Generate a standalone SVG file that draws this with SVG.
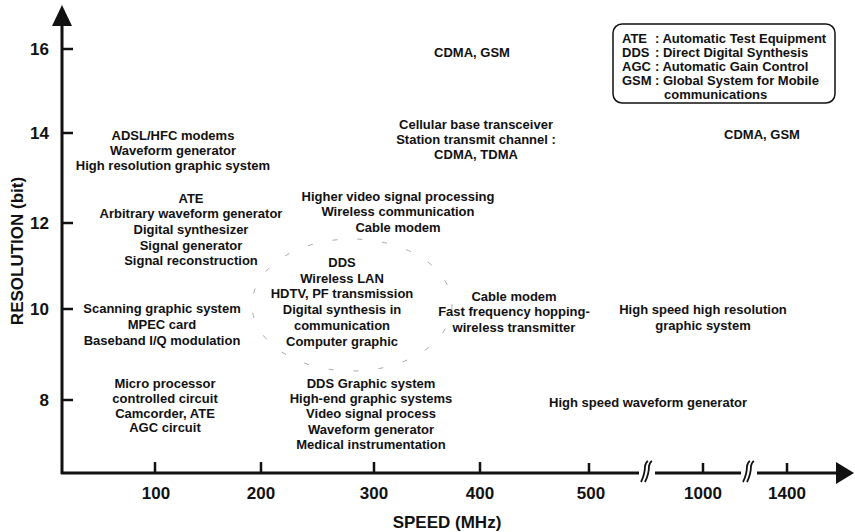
<svg xmlns="http://www.w3.org/2000/svg" width="855" height="532" viewBox="0 0 855 532">
<style>
text{font-family:"Liberation Sans",Arial,sans-serif;font-weight:bold;fill:#111}
.t{font-size:13px;text-anchor:middle}
.n{font-size:17px}
.ax{stroke:#111;stroke-width:3;fill:none}
.tk{stroke:#111;stroke-width:2.5}
.lg{font-size:13px}
.brk{stroke:#111;stroke-width:1.8;fill:none}
</style>
<rect width="855" height="532" fill="#fff"/>
<g id="axes">
<line class="ax" x1="62" y1="474" x2="62" y2="22"/>
<polygon points="52,26 72,26 62,5" fill="#111"/>
<line class="ax" x1="61" y1="473" x2="840" y2="473"/>
<polygon points="836,462 836,484 854,473" fill="#111"/>
<g class="tk">
<line x1="62" y1="49" x2="73" y2="49"/>
<line x1="62" y1="133" x2="73" y2="133"/>
<line x1="62" y1="223" x2="73" y2="223"/>
<line x1="62" y1="309" x2="73" y2="309"/>
<line x1="62" y1="400" x2="73" y2="400"/>
<line x1="155" y1="473" x2="155" y2="462"/>
<line x1="261" y1="473" x2="261" y2="462"/>
<line x1="374" y1="473" x2="374" y2="462"/>
<line x1="480" y1="473" x2="480" y2="462"/>
<line x1="589" y1="473" x2="589" y2="463"/>
<line x1="703" y1="473" x2="703" y2="463"/>
<line x1="787" y1="473" x2="787" y2="463"/>
</g>
<rect x="639" y="470" width="16" height="6" fill="#fff"/>
<rect x="741" y="470" width="16" height="6" fill="#fff"/>
<g class="brk">
<path d="M641,482 Q645,474 645,466 Q646,462 648,461"/>
<path d="M645,482 Q649,474 649,466 Q650,462 652,461"/>
<path d="M743,482 Q747,474 747,466 Q748,462 750,461"/>
<path d="M747,482 Q751,474 751,466 Q752,462 754,461"/>
</g>
<g class="n" text-anchor="end">
<text x="49" y="55">16</text>
<text x="49" y="139">14</text>
<text x="49" y="229">12</text>
<text x="49" y="315">10</text>
<text x="49" y="406">8</text>
</g>
<g class="n" text-anchor="middle">
<text x="156" y="499">100</text>
<text x="261" y="499">200</text>
<text x="374" y="499">300</text>
<text x="480" y="499">400</text>
<text x="591" y="499">500</text>
<text x="703" y="499">1000</text>
<text x="787" y="499">1400</text>
<text x="447" y="528">SPEED (MHz)</text>
<text x="0" y="0" transform="translate(23,251) rotate(-90)">RESOLUTION (bit)</text>
</g>
</g>
<g id="legend">
<rect x="613" y="24" width="222" height="79" rx="9" fill="none" stroke="#111" stroke-width="1.5"/>
<text class="lg" x="622" y="43">ATE</text>
<text class="lg" x="622" y="57">DDS</text>
<text class="lg" x="622" y="71">AGC</text>
<text class="lg" x="622" y="85">GSM</text>
<text class="lg" x="655" y="43">: Automatic Test Equipment</text>
<text class="lg" x="655" y="57">: Direct Digital Synthesis</text>
<text class="lg" x="655" y="71">: Automatic Gain Control</text>
<text class="lg" x="655" y="85">: Global System for Mobile</text>
<text class="lg" x="664" y="99">communications</text>
</g>
<g id="connectors">
<ellipse cx="352" cy="305" rx="100" ry="66" fill="none" stroke="#aaa" stroke-width="1" stroke-dasharray="5 20"/>
</g>
<g id="n-cdma-top"><text class="t" x="472" y="57">CDMA, GSM</text></g>
<g id="n-cdma-right"><text class="t" x="762" y="139">CDMA, GSM</text></g>
<g id="n-cellular">
<text class="t" x="476" y="129">Cellular base transceiver</text>
<text class="t" x="476" y="144">Station transmit channel :</text>
<text class="t" x="476" y="159">CDMA, TDMA</text>
</g>
<g id="n-adsl">
<text class="t" x="173" y="140">ADSL/HFC modems</text>
<text class="t" x="173" y="155">Waveform generator</text>
<text class="t" x="173" y="170">High resolution graphic system</text>
</g>
<g id="n-ate">
<text class="t" x="191" y="203">ATE</text>
<text class="t" x="191" y="218">Arbitrary waveform generator</text>
<text class="t" x="191" y="234">Digital synthesizer</text>
<text class="t" x="191" y="250">Signal generator</text>
<text class="t" x="191" y="265">Signal reconstruction</text>
</g>
<g id="n-higher">
<text class="t" x="398" y="201">Higher video signal processing</text>
<text class="t" x="398" y="216">Wireless communication</text>
<text class="t" x="398" y="232">Cable modem</text>
</g>
<g id="n-dds">
<text class="t" x="342" y="267">DDS</text>
<text class="t" x="342" y="283">Wireless LAN</text>
<text class="t" x="342" y="298">HDTV, PF transmission</text>
<text class="t" x="342" y="314">Digital synthesis in</text>
<text class="t" x="342" y="330">communication</text>
<text class="t" x="342" y="346">Computer graphic</text>
</g>
<g id="n-cable">
<text class="t" x="514" y="301">Cable modem</text>
<text class="t" x="514" y="316">Fast frequency hopping-</text>
<text class="t" x="514" y="332">wireless transmitter</text>
</g>
<g id="n-hshr">
<text class="t" x="703" y="314">High speed high resolution</text>
<text class="t" x="703" y="330">graphic system</text>
</g>
<g id="n-scanning">
<text class="t" x="162" y="313">Scanning graphic system</text>
<text class="t" x="162" y="329">MPEC card</text>
<text class="t" x="162" y="345">Baseband I/Q modulation</text>
</g>
<g id="n-micro">
<text class="t" x="165" y="388">Micro processor</text>
<text class="t" x="165" y="403">controlled circuit</text>
<text class="t" x="165" y="418">Camcorder, ATE</text>
<text class="t" x="165" y="432">AGC circuit</text>
</g>
<g id="n-ddsgraphic">
<text class="t" x="371" y="388">DDS Graphic system</text>
<text class="t" x="371" y="403">High-end graphic systems</text>
<text class="t" x="371" y="418">Video signal process</text>
<text class="t" x="371" y="434">Waveform generator</text>
<text class="t" x="371" y="449">Medical instrumentation</text>
</g>
<g id="n-hswg"><text class="t" x="648" y="407">High speed waveform generator</text></g>
</svg>
